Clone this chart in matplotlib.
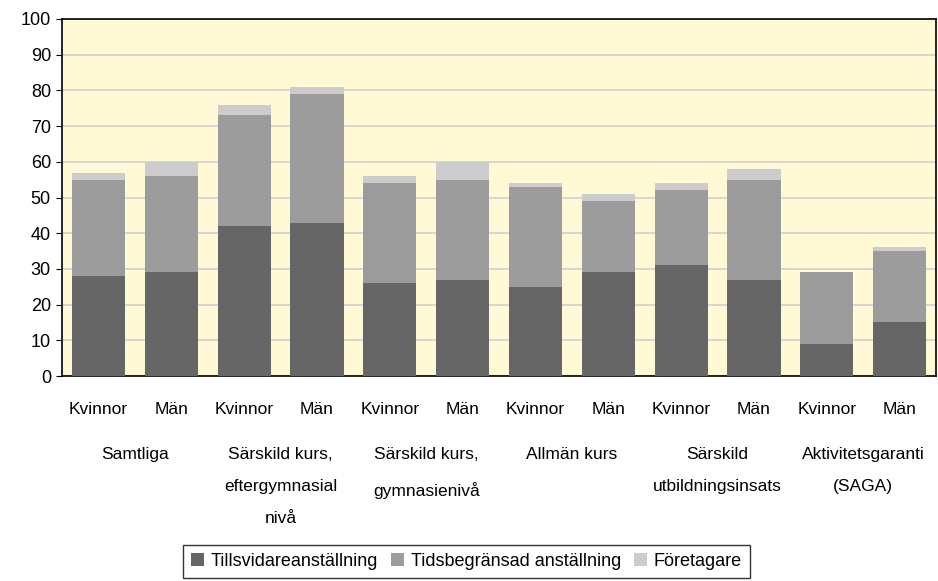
import matplotlib.pyplot as plt
import numpy as np

plt.rcParams['font.family'] = ['Liberation Sans Narrow', 'Liberation Sans', 'DejaVu Sans']

groups = ['Samtliga', 'Särskild kurs,\neftergymnasial\nnivå', 'Särskild kurs,\ngymnasienivå',
          'Allmän kurs', 'Särskild\nutbildningsinsats', 'Aktivitetsgaranti\n(SAGA)']
sexes = ['Kvinnor', 'Män']

# Kvinnor/Män alternating per group
tillsvidare = [28, 29, 42, 43, 26, 27, 25, 29, 31, 27, 9, 15]
tidsbegr = [27, 27, 31, 36, 28, 28, 28, 20, 21, 28, 20, 20]
foretagare = [2, 4, 3, 2, 2, 5, 1, 2, 2, 3, 0, 1]

series = ['Tillsvidareanställning', 'Tidsbegränsad anställning', 'Företagare']
colors = ['#666666', '#9c9c9c', '#cccccc']

fig = plt.figure(figsize=(9.38, 5.81), dpi=100)
ax = fig.add_axes([0.0661, 0.3528, 0.9318, 0.6145])
ax.set_facecolor('#fff9d6')

x = np.arange(len(tillsvidare))
w = 0.73
b1 = np.array(tillsvidare)
b2 = b1 + np.array(tidsbegr)
ax.bar(x, tillsvidare, w, color=colors[0], label=series[0], zorder=3)
ax.bar(x, tidsbegr, w, bottom=b1, color=colors[1], label=series[1], zorder=3)
ax.bar(x, foretagare, w, bottom=b2, color=colors[2], label=series[2], zorder=3)

ax.set_xlim(-0.5, len(x) - 0.5)
ax.set_ylim(0, 100)
ax.set_yticks(range(0, 101, 10))
ax.tick_params(axis='y', labelsize=13, length=4, direction='out', pad=4)
ax.tick_params(axis='x', length=0)
ax.set_xticks(x)
ax.set_xticklabels([])
ax.yaxis.grid(True, color='#cfcfcf', linewidth=1.2, zorder=0)
for s in ax.spines.values():
    s.set_color('black')
    s.set_linewidth(1.2)

tr = ax.get_xaxis_transform()
for i in x:
    ax.text(i, -0.095, sexes[i % 2], transform=tr, ha='center', va='center', fontsize=12.5)
for g, name in enumerate(groups):
    ax.text(2 * g + 0.5, -0.2, name, transform=tr, ha='center', va='top',
            fontsize=12.5, linespacing=2.4)

leg = fig.legend(loc='lower center', bbox_to_anchor=(0.497, 0.005), ncol=3, fontsize=13,
                 frameon=True, fancybox=False, handlelength=0.75, handleheight=0.75,
                 handletextpad=0.35, columnspacing=0.7, borderpad=0.45, borderaxespad=0)
leg.get_frame().set_edgecolor('black')
leg.get_frame().set_linewidth(1.0)

fig.savefig('out.png', dpi=100)
